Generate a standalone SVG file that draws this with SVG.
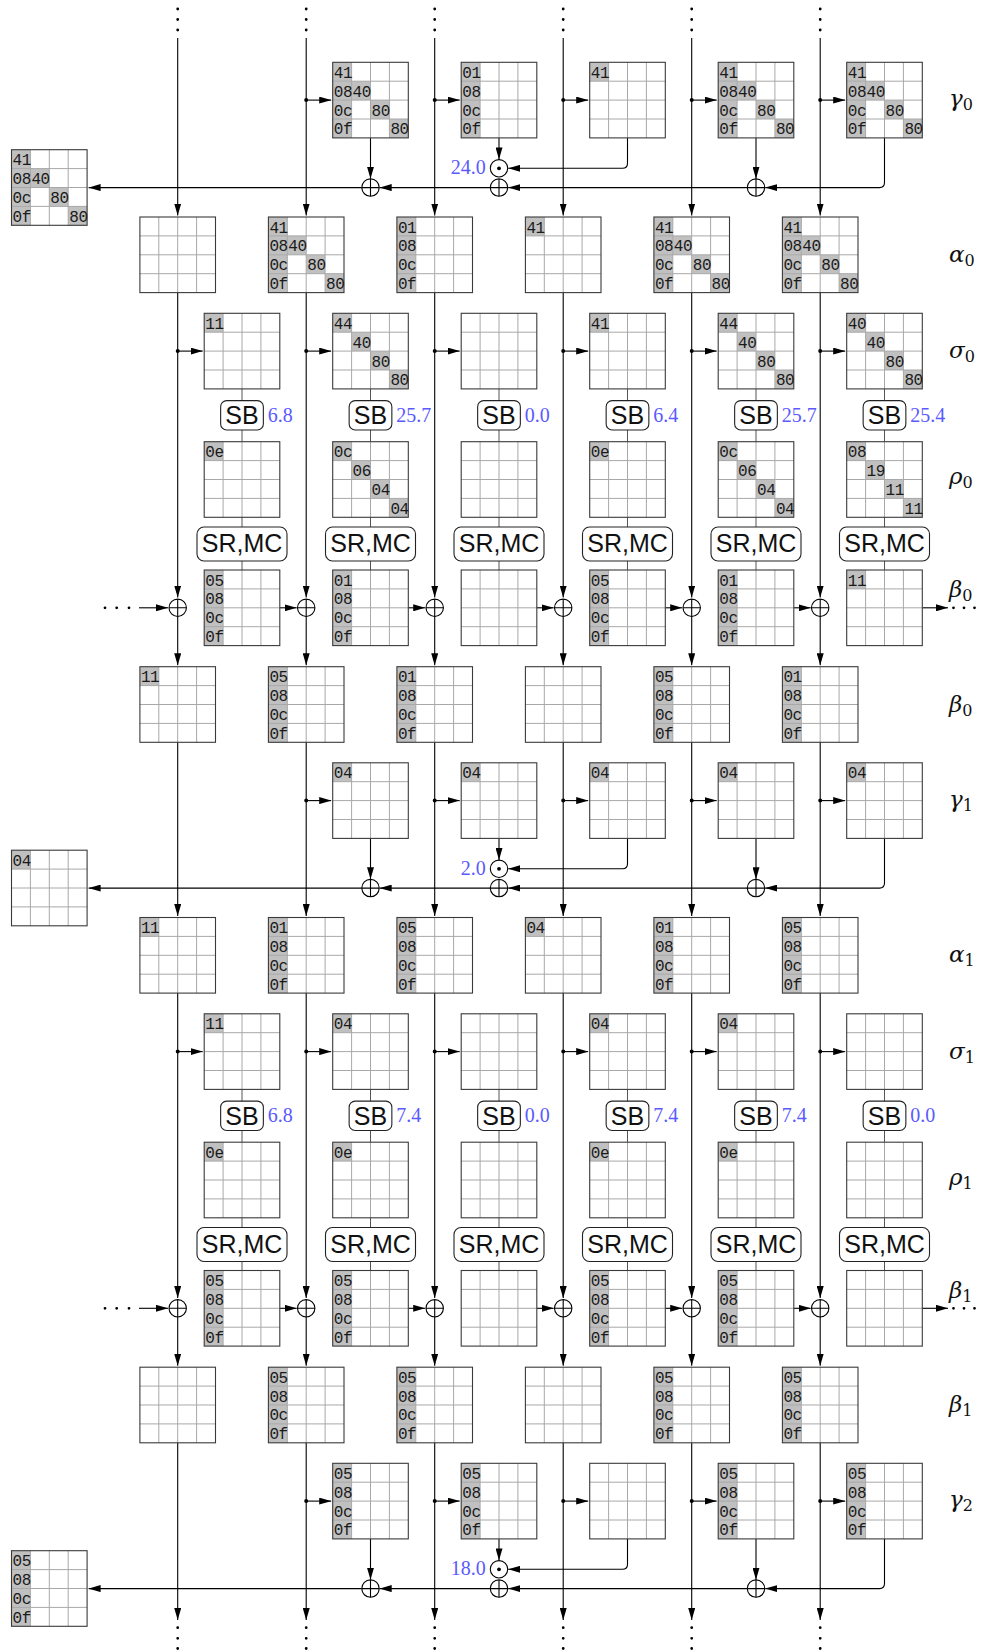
<svg xmlns="http://www.w3.org/2000/svg" width="981" height="1650" viewBox="0 0 981 1650">
<style>
.s{fill:#c0c0c0}
.c{font-family:"Liberation Mono","DejaVu Sans Mono",monospace;font-size:16px;letter-spacing:-0.4px;fill:#1a1a1a}
.ln{fill:none;stroke:#000;stroke-width:1.1}
.a{marker-end:url(#ah)}
.sh{fill:none;stroke:#555;stroke-width:1}
.dt{fill:none;stroke:#000;stroke-linecap:round}
.op{fill:#fff;stroke:#222;stroke-width:1.1}
.opt{font-family:"Liberation Sans",Arial,sans-serif;font-size:25px;text-anchor:middle;fill:#111}
.n{font-family:"Liberation Serif","Times New Roman",serif;font-size:20px;fill:#5a5aff}
.ne{text-anchor:end}
.lab{font-family:"DejaVu Serif","Liberation Serif",serif;font-style:italic;font-size:23px;fill:#111}
.sub{font-style:normal;font-size:16px}
</style>
<defs>
<marker id="ah" viewBox="0 0 12 7" refX="12" refY="3.5" markerWidth="12" markerHeight="7" markerUnits="userSpaceOnUse" orient="auto"><path d="M0,0L12,3.5L0,7Z" fill="#000" stroke="none"/></marker>
<rect id="sc" class="s" width="18.9" height="18.9"/>
<g id="grid"><path d="M18.9,0V75.6M37.8,0V75.6M56.7,0V75.6M0,18.9H75.6M0,37.8H75.6M0,56.7H75.6" fill="none" stroke="#a8a8a8" stroke-width="1"/><rect width="75.6" height="75.6" fill="none" stroke="#3a3a3a" stroke-width="1.1"/></g>
<g id="xor"><circle r="8.7" fill="#fff" stroke="#000" stroke-width="1.1"/><path d="M-8.7,0H8.7M0,-8.7V8.7" stroke="#000" stroke-width="1.1"/></g>
<g id="odot"><circle r="8.7" fill="#fff" stroke="#000" stroke-width="1.1"/><circle r="1.9" fill="#000"/></g>
<rect id="sbb" class="op" x="-21.35" y="-14.65" width="42.7" height="29.3" rx="6"/>
<rect id="srb" class="op" x="-45" y="-17" width="90" height="34" rx="7"/>
</defs>
<rect width="981" height="1650" fill="#fff"/>

<g id="connectors" class="ln">
<g transform="translate(0,62.3)">
<path class="dt" stroke-width="2.8" d="M177.7,-53.3h0M177.7,-42.8h0M177.7,-32.3h0M306.2,-53.3h0M306.2,-42.8h0M306.2,-32.3h0M434.7,-53.3h0M434.7,-42.8h0M434.7,-32.3h0M563.2,-53.3h0M563.2,-42.8h0M563.2,-32.3h0M691.7,-53.3h0M691.7,-42.8h0M691.7,-32.3h0M820.2,-53.3h0M820.2,-42.8h0M820.2,-32.3h0"/>
<path class="a" d="M177.7,-24.3V153.2"/><path class="a" d="M306.2,-24.3V153.2"/><path class="a" d="M434.7,-24.3V153.2"/><path class="a" d="M563.2,-24.3V153.2"/><path class="a" d="M691.7,-24.3V153.2"/><path class="a" d="M820.2,-24.3V153.2"/>
<path class="a" d="M177.7,230.3V535.3"/><path class="a" d="M306.2,230.3V535.3"/><path class="a" d="M434.7,230.3V535.3"/><path class="a" d="M563.2,230.3V535.3"/><path class="a" d="M691.7,230.3V535.3"/><path class="a" d="M820.2,230.3V535.3"/>
<path class="a" d="M177.7,554.2V603"/><path class="a" d="M306.2,554.2V603"/><path class="a" d="M434.7,554.2V603"/><path class="a" d="M563.2,554.2V603"/><path class="a" d="M691.7,554.2V603"/><path class="a" d="M820.2,554.2V603"/>
<path class="a" d="M306.2,37.8H331.2"/><path class="a" d="M434.7,37.8H459.7"/><path class="a" d="M563.2,37.8H588.2"/><path class="a" d="M691.7,37.8H716.7"/><path class="a" d="M820.2,37.8H845.2"/>
<path class="a" d="M177.7,288.8H202.7"/><path class="a" d="M306.2,288.8H331.2"/><path class="a" d="M434.7,288.8H459.7"/><path class="a" d="M563.2,288.8H588.2"/><path class="a" d="M691.7,288.8H716.7"/><path class="a" d="M820.2,288.8H845.2"/>
<path class="dt" stroke-width="4" d="M306.2,37.8h0M434.7,37.8h0M563.2,37.8h0M691.7,37.8h0M820.2,37.8h0M177.7,288.8h0M306.2,288.8h0M434.7,288.8h0M563.2,288.8h0M691.7,288.8h0M820.2,288.8h0"/>
<path class="a" d="M370.5,75.6V116.4"/><path class="a" d="M499,75.6V97.1"/><path class="a" d="M627.5,75.6V101Q627.5,106 622.5,106H508.2"/><path class="a" d="M756,75.6V116.4"/><path class="a" d="M884.5,75.6V120.3Q884.5,125.3 879.5,125.3H765.2"/><path class="a" d="M747.3,125.3H508.2"/><path class="a" d="M490.3,125.3H379.7"/><path class="a" d="M361.8,125.3H88.6"/>
<path class="sh" d="M242,326.6V338.35M242,367.65V379.4M242,455V464.7M242,498.7V507.7M370.5,326.6V338.35M370.5,367.65V379.4M370.5,455V464.7M370.5,498.7V507.7M499,326.6V338.35M499,367.65V379.4M499,455V464.7M499,498.7V507.7M627.5,326.6V338.35M627.5,367.65V379.4M627.5,455V464.7M627.5,498.7V507.7M756,326.6V338.35M756,367.65V379.4M756,455V464.7M756,498.7V507.7M884.5,326.6V338.35M884.5,367.65V379.4M884.5,455V464.7M884.5,498.7V507.7"/>
<path class="a" d="M139,545.5H168"/><path class="a" d="M279.75,545.5H296.7"/><path class="a" d="M408.25,545.5H425.2"/><path class="a" d="M536.75,545.5H553.7"/><path class="a" d="M665.25,545.5H682.2"/><path class="a" d="M793.75,545.5H810.7"/><path class="a" d="M922.25,545.5H948"/>
<path class="dt" stroke-width="2.8" d="M105,545.5h0M116.7,545.5h0M129,545.5h0M953.5,545.5h0M964,545.5h0M974.5,545.5h0"/>
</g>
<g transform="translate(0,762.8)">
<path class="a" d="M177.7,-20.5V153.2"/><path class="a" d="M306.2,-20.5V153.2"/><path class="a" d="M434.7,-20.5V153.2"/><path class="a" d="M563.2,-20.5V153.2"/><path class="a" d="M691.7,-20.5V153.2"/><path class="a" d="M820.2,-20.5V153.2"/>
<path class="a" d="M177.7,230.3V535.3"/><path class="a" d="M306.2,230.3V535.3"/><path class="a" d="M434.7,230.3V535.3"/><path class="a" d="M563.2,230.3V535.3"/><path class="a" d="M691.7,230.3V535.3"/><path class="a" d="M820.2,230.3V535.3"/>
<path class="a" d="M177.7,554.2V603"/><path class="a" d="M306.2,554.2V603"/><path class="a" d="M434.7,554.2V603"/><path class="a" d="M563.2,554.2V603"/><path class="a" d="M691.7,554.2V603"/><path class="a" d="M820.2,554.2V603"/>
<path class="a" d="M306.2,37.8H331.2"/><path class="a" d="M434.7,37.8H459.7"/><path class="a" d="M563.2,37.8H588.2"/><path class="a" d="M691.7,37.8H716.7"/><path class="a" d="M820.2,37.8H845.2"/>
<path class="a" d="M177.7,288.8H202.7"/><path class="a" d="M306.2,288.8H331.2"/><path class="a" d="M434.7,288.8H459.7"/><path class="a" d="M563.2,288.8H588.2"/><path class="a" d="M691.7,288.8H716.7"/><path class="a" d="M820.2,288.8H845.2"/>
<path class="dt" stroke-width="4" d="M306.2,37.8h0M434.7,37.8h0M563.2,37.8h0M691.7,37.8h0M820.2,37.8h0M177.7,288.8h0M306.2,288.8h0M434.7,288.8h0M563.2,288.8h0M691.7,288.8h0M820.2,288.8h0"/>
<path class="a" d="M370.5,75.6V116.4"/><path class="a" d="M499,75.6V97.1"/><path class="a" d="M627.5,75.6V101Q627.5,106 622.5,106H508.2"/><path class="a" d="M756,75.6V116.4"/><path class="a" d="M884.5,75.6V120.3Q884.5,125.3 879.5,125.3H765.2"/><path class="a" d="M747.3,125.3H508.2"/><path class="a" d="M490.3,125.3H379.7"/><path class="a" d="M361.8,125.3H88.6"/>
<path class="sh" d="M242,326.6V338.35M242,367.65V379.4M242,455V464.7M242,498.7V507.7M370.5,326.6V338.35M370.5,367.65V379.4M370.5,455V464.7M370.5,498.7V507.7M499,326.6V338.35M499,367.65V379.4M499,455V464.7M499,498.7V507.7M627.5,326.6V338.35M627.5,367.65V379.4M627.5,455V464.7M627.5,498.7V507.7M756,326.6V338.35M756,367.65V379.4M756,455V464.7M756,498.7V507.7M884.5,326.6V338.35M884.5,367.65V379.4M884.5,455V464.7M884.5,498.7V507.7"/>
<path class="a" d="M139,545.5H168"/><path class="a" d="M279.75,545.5H296.7"/><path class="a" d="M408.25,545.5H425.2"/><path class="a" d="M536.75,545.5H553.7"/><path class="a" d="M665.25,545.5H682.2"/><path class="a" d="M793.75,545.5H810.7"/><path class="a" d="M922.25,545.5H948"/>
<path class="dt" stroke-width="2.8" d="M105,545.5h0M116.7,545.5h0M129,545.5h0M953.5,545.5h0M964,545.5h0M974.5,545.5h0"/>
</g>
<g transform="translate(0,1463.3)">
<path class="a" d="M177.7,-20.5V156.7"/><path class="a" d="M306.2,-20.5V156.7"/><path class="a" d="M434.7,-20.5V156.7"/><path class="a" d="M563.2,-20.5V156.7"/><path class="a" d="M691.7,-20.5V156.7"/><path class="a" d="M820.2,-20.5V156.7"/>
<path class="a" d="M306.2,37.8H331.2"/><path class="a" d="M434.7,37.8H459.7"/><path class="a" d="M563.2,37.8H588.2"/><path class="a" d="M691.7,37.8H716.7"/><path class="a" d="M820.2,37.8H845.2"/>
<path class="dt" stroke-width="4" d="M306.2,37.8h0M434.7,37.8h0M563.2,37.8h0M691.7,37.8h0M820.2,37.8h0"/>
<path class="a" d="M370.5,75.6V116.4"/><path class="a" d="M499,75.6V97.1"/><path class="a" d="M627.5,75.6V101Q627.5,106 622.5,106H508.2"/><path class="a" d="M756,75.6V116.4"/><path class="a" d="M884.5,75.6V120.3Q884.5,125.3 879.5,125.3H765.2"/><path class="a" d="M747.3,125.3H508.2"/><path class="a" d="M490.3,125.3H379.7"/><path class="a" d="M361.8,125.3H88.6"/>
<path class="dt" stroke-width="2.8" d="M177.7,164.4h0M177.7,175h0M177.7,185.2h0M306.2,164.4h0M306.2,175h0M306.2,185.2h0M434.7,164.4h0M434.7,175h0M434.7,185.2h0M563.2,164.4h0M563.2,175h0M563.2,185.2h0M691.7,164.4h0M691.7,175h0M691.7,185.2h0M820.2,164.4h0M820.2,175h0M820.2,185.2h0"/>
</g>
</g>

<!-- ===== period 0 ===== -->
<g id="gamma0_1" transform="translate(332.7,62.3)"><use href="#sc"/><use href="#sc" y="18.9"/><use href="#sc" x="18.9" y="18.9"/><use href="#sc" y="37.8"/><use href="#sc" x="37.8" y="37.8"/><use href="#sc" y="56.7"/><use href="#sc" x="56.7" y="56.7"/><use href="#grid"/><text class="c" x="1" y="15.5">41</text><text class="c" x="1" y="34.4">08</text><text class="c" x="19.9" y="34.4">40</text><text class="c" x="1" y="53.3">0c</text><text class="c" x="38.8" y="53.3">80</text><text class="c" x="1" y="72.2">0f</text><text class="c" x="57.7" y="72.2">80</text></g>
<g id="gamma0_2" transform="translate(461.2,62.3)"><rect class="s" width="18.9" height="75.6"/><use href="#grid"/><text class="c" x="1" y="15.5">01</text><text class="c" x="1" y="34.4">08</text><text class="c" x="1" y="53.3">0c</text><text class="c" x="1" y="72.2">0f</text></g>
<g id="gamma0_3" transform="translate(589.7,62.3)"><use href="#sc"/><use href="#grid"/><text class="c" x="1" y="15.5">41</text></g>
<g id="gamma0_4" transform="translate(718.2,62.3)"><use href="#sc"/><use href="#sc" y="18.9"/><use href="#sc" x="18.9" y="18.9"/><use href="#sc" y="37.8"/><use href="#sc" x="37.8" y="37.8"/><use href="#sc" y="56.7"/><use href="#sc" x="56.7" y="56.7"/><use href="#grid"/><text class="c" x="1" y="15.5">41</text><text class="c" x="1" y="34.4">08</text><text class="c" x="19.9" y="34.4">40</text><text class="c" x="1" y="53.3">0c</text><text class="c" x="38.8" y="53.3">80</text><text class="c" x="1" y="72.2">0f</text><text class="c" x="57.7" y="72.2">80</text></g>
<g id="gamma0_5" transform="translate(846.7,62.3)"><use href="#sc"/><use href="#sc" y="18.9"/><use href="#sc" x="18.9" y="18.9"/><use href="#sc" y="37.8"/><use href="#sc" x="37.8" y="37.8"/><use href="#sc" y="56.7"/><use href="#sc" x="56.7" y="56.7"/><use href="#grid"/><text class="c" x="1" y="15.5">41</text><text class="c" x="1" y="34.4">08</text><text class="c" x="19.9" y="34.4">40</text><text class="c" x="1" y="53.3">0c</text><text class="c" x="38.8" y="53.3">80</text><text class="c" x="1" y="72.2">0f</text><text class="c" x="57.7" y="72.2">80</text></g>
<g id="out0" transform="translate(11.5,149.7)"><use href="#sc"/><use href="#sc" y="18.9"/><use href="#sc" x="18.9" y="18.9"/><use href="#sc" y="37.8"/><use href="#sc" x="37.8" y="37.8"/><use href="#sc" y="56.7"/><use href="#sc" x="56.7" y="56.7"/><use href="#grid"/><text class="c" x="1" y="15.5">41</text><text class="c" x="1" y="34.4">08</text><text class="c" x="19.9" y="34.4">40</text><text class="c" x="1" y="53.3">0c</text><text class="c" x="38.8" y="53.3">80</text><text class="c" x="1" y="72.2">0f</text><text class="c" x="57.7" y="72.2">80</text></g>
<g id="xg0_1"><use href="#xor" x="370.5" y="187.6"/></g>
<g id="xg0_2"><use href="#xor" x="499" y="187.6"/></g>
<g id="xg0_4"><use href="#xor" x="756" y="187.6"/></g>
<g id="od0"><use href="#odot" x="499" y="168.3"/><text class="n ne" x="485.7" y="174">24.0</text></g>

<g id="alpha0_0" transform="translate(139.9,217)"><use href="#grid"/></g>
<g id="alpha0_1" transform="translate(268.4,217)"><use href="#sc"/><use href="#sc" y="18.9"/><use href="#sc" x="18.9" y="18.9"/><use href="#sc" y="37.8"/><use href="#sc" x="37.8" y="37.8"/><use href="#sc" y="56.7"/><use href="#sc" x="56.7" y="56.7"/><use href="#grid"/><text class="c" x="1" y="15.5">41</text><text class="c" x="1" y="34.4">08</text><text class="c" x="19.9" y="34.4">40</text><text class="c" x="1" y="53.3">0c</text><text class="c" x="38.8" y="53.3">80</text><text class="c" x="1" y="72.2">0f</text><text class="c" x="57.7" y="72.2">80</text></g>
<g id="alpha0_2" transform="translate(396.9,217)"><rect class="s" width="18.9" height="75.6"/><use href="#grid"/><text class="c" x="1" y="15.5">01</text><text class="c" x="1" y="34.4">08</text><text class="c" x="1" y="53.3">0c</text><text class="c" x="1" y="72.2">0f</text></g>
<g id="alpha0_3" transform="translate(525.4,217)"><use href="#sc"/><use href="#grid"/><text class="c" x="1" y="15.5">41</text></g>
<g id="alpha0_4" transform="translate(653.9,217)"><use href="#sc"/><use href="#sc" y="18.9"/><use href="#sc" x="18.9" y="18.9"/><use href="#sc" y="37.8"/><use href="#sc" x="37.8" y="37.8"/><use href="#sc" y="56.7"/><use href="#sc" x="56.7" y="56.7"/><use href="#grid"/><text class="c" x="1" y="15.5">41</text><text class="c" x="1" y="34.4">08</text><text class="c" x="19.9" y="34.4">40</text><text class="c" x="1" y="53.3">0c</text><text class="c" x="38.8" y="53.3">80</text><text class="c" x="1" y="72.2">0f</text><text class="c" x="57.7" y="72.2">80</text></g>
<g id="alpha0_5" transform="translate(782.4,217)"><use href="#sc"/><use href="#sc" y="18.9"/><use href="#sc" x="18.9" y="18.9"/><use href="#sc" y="37.8"/><use href="#sc" x="37.8" y="37.8"/><use href="#sc" y="56.7"/><use href="#sc" x="56.7" y="56.7"/><use href="#grid"/><text class="c" x="1" y="15.5">41</text><text class="c" x="1" y="34.4">08</text><text class="c" x="19.9" y="34.4">40</text><text class="c" x="1" y="53.3">0c</text><text class="c" x="38.8" y="53.3">80</text><text class="c" x="1" y="72.2">0f</text><text class="c" x="57.7" y="72.2">80</text></g>

<g id="sigma0_0" transform="translate(204.2,313.3)"><use href="#sc"/><use href="#grid"/><text class="c" x="1" y="15.5">11</text></g>
<g id="sigma0_1" transform="translate(332.7,313.3)"><use href="#sc"/><use href="#sc" x="18.9" y="18.9"/><use href="#sc" x="37.8" y="37.8"/><use href="#sc" x="56.7" y="56.7"/><use href="#grid"/><text class="c" x="1" y="15.5">44</text><text class="c" x="19.9" y="34.4">40</text><text class="c" x="38.8" y="53.3">80</text><text class="c" x="57.7" y="72.2">80</text></g>
<g id="sigma0_2" transform="translate(461.2,313.3)"><use href="#grid"/></g>
<g id="sigma0_3" transform="translate(589.7,313.3)"><use href="#sc"/><use href="#grid"/><text class="c" x="1" y="15.5">41</text></g>
<g id="sigma0_4" transform="translate(718.2,313.3)"><use href="#sc"/><use href="#sc" x="18.9" y="18.9"/><use href="#sc" x="37.8" y="37.8"/><use href="#sc" x="56.7" y="56.7"/><use href="#grid"/><text class="c" x="1" y="15.5">44</text><text class="c" x="19.9" y="34.4">40</text><text class="c" x="38.8" y="53.3">80</text><text class="c" x="57.7" y="72.2">80</text></g>
<g id="sigma0_5" transform="translate(846.7,313.3)"><use href="#sc"/><use href="#sc" x="18.9" y="18.9"/><use href="#sc" x="37.8" y="37.8"/><use href="#sc" x="56.7" y="56.7"/><use href="#grid"/><text class="c" x="1" y="15.5">40</text><text class="c" x="19.9" y="34.4">40</text><text class="c" x="38.8" y="53.3">80</text><text class="c" x="57.7" y="72.2">80</text></g>

<g id="sb0_0"><use href="#sbb" x="242" y="415.3"/><text class="opt" x="242" y="424.3">SB</text><text class="n" x="267.8" y="421.7">6.8</text></g>
<g id="sb0_1"><use href="#sbb" x="370.5" y="415.3"/><text class="opt" x="370.5" y="424.3">SB</text><text class="n" x="396.3" y="421.7">25.7</text></g>
<g id="sb0_2"><use href="#sbb" x="499" y="415.3"/><text class="opt" x="499" y="424.3">SB</text><text class="n" x="524.8" y="421.7">0.0</text></g>
<g id="sb0_3"><use href="#sbb" x="627.5" y="415.3"/><text class="opt" x="627.5" y="424.3">SB</text><text class="n" x="653.3" y="421.7">6.4</text></g>
<g id="sb0_4"><use href="#sbb" x="756" y="415.3"/><text class="opt" x="756" y="424.3">SB</text><text class="n" x="781.8" y="421.7">25.7</text></g>
<g id="sb0_5"><use href="#sbb" x="884.5" y="415.3"/><text class="opt" x="884.5" y="424.3">SB</text><text class="n" x="910.3" y="421.7">25.4</text></g>

<g id="rho0_0" transform="translate(204.2,441.7)"><use href="#sc"/><use href="#grid"/><text class="c" x="1" y="15.5">0e</text></g>
<g id="rho0_1" transform="translate(332.7,441.7)"><use href="#sc"/><use href="#sc" x="18.9" y="18.9"/><use href="#sc" x="37.8" y="37.8"/><use href="#sc" x="56.7" y="56.7"/><use href="#grid"/><text class="c" x="1" y="15.5">0c</text><text class="c" x="19.9" y="34.4">06</text><text class="c" x="38.8" y="53.3">04</text><text class="c" x="57.7" y="72.2">04</text></g>
<g id="rho0_2" transform="translate(461.2,441.7)"><use href="#grid"/></g>
<g id="rho0_3" transform="translate(589.7,441.7)"><use href="#sc"/><use href="#grid"/><text class="c" x="1" y="15.5">0e</text></g>
<g id="rho0_4" transform="translate(718.2,441.7)"><use href="#sc"/><use href="#sc" x="18.9" y="18.9"/><use href="#sc" x="37.8" y="37.8"/><use href="#sc" x="56.7" y="56.7"/><use href="#grid"/><text class="c" x="1" y="15.5">0c</text><text class="c" x="19.9" y="34.4">06</text><text class="c" x="38.8" y="53.3">04</text><text class="c" x="57.7" y="72.2">04</text></g>
<g id="rho0_5" transform="translate(846.7,441.7)"><use href="#sc"/><use href="#sc" x="18.9" y="18.9"/><use href="#sc" x="37.8" y="37.8"/><use href="#sc" x="56.7" y="56.7"/><use href="#grid"/><text class="c" x="1" y="15.5">08</text><text class="c" x="19.9" y="34.4">19</text><text class="c" x="38.8" y="53.3">11</text><text class="c" x="57.7" y="72.2">11</text></g>

<g id="sr0_0"><use href="#srb" x="242" y="544"/><text class="opt" x="242" y="552">SR,MC</text></g>
<g id="sr0_1"><use href="#srb" x="370.5" y="544"/><text class="opt" x="370.5" y="552">SR,MC</text></g>
<g id="sr0_2"><use href="#srb" x="499" y="544"/><text class="opt" x="499" y="552">SR,MC</text></g>
<g id="sr0_3"><use href="#srb" x="627.5" y="544"/><text class="opt" x="627.5" y="552">SR,MC</text></g>
<g id="sr0_4"><use href="#srb" x="756" y="544"/><text class="opt" x="756" y="552">SR,MC</text></g>
<g id="sr0_5"><use href="#srb" x="884.5" y="544"/><text class="opt" x="884.5" y="552">SR,MC</text></g>

<g id="beta0_0" transform="translate(204.2,570)"><rect class="s" width="18.9" height="75.6"/><use href="#grid"/><text class="c" x="1" y="15.5">05</text><text class="c" x="1" y="34.4">08</text><text class="c" x="1" y="53.3">0c</text><text class="c" x="1" y="72.2">0f</text></g>
<g id="beta0_1" transform="translate(332.7,570)"><rect class="s" width="18.9" height="75.6"/><use href="#grid"/><text class="c" x="1" y="15.5">01</text><text class="c" x="1" y="34.4">08</text><text class="c" x="1" y="53.3">0c</text><text class="c" x="1" y="72.2">0f</text></g>
<g id="beta0_2" transform="translate(461.2,570)"><use href="#grid"/></g>
<g id="beta0_3" transform="translate(589.7,570)"><rect class="s" width="18.9" height="75.6"/><use href="#grid"/><text class="c" x="1" y="15.5">05</text><text class="c" x="1" y="34.4">08</text><text class="c" x="1" y="53.3">0c</text><text class="c" x="1" y="72.2">0f</text></g>
<g id="beta0_4" transform="translate(718.2,570)"><rect class="s" width="18.9" height="75.6"/><use href="#grid"/><text class="c" x="1" y="15.5">01</text><text class="c" x="1" y="34.4">08</text><text class="c" x="1" y="53.3">0c</text><text class="c" x="1" y="72.2">0f</text></g>
<g id="beta0_5" transform="translate(846.7,570)"><use href="#sc"/><use href="#grid"/><text class="c" x="1" y="15.5">11</text></g>
<g id="xb0_0"><use href="#xor" x="177.7" y="607.8"/></g>
<g id="xb0_1"><use href="#xor" x="306.2" y="607.8"/></g>
<g id="xb0_2"><use href="#xor" x="434.7" y="607.8"/></g>
<g id="xb0_3"><use href="#xor" x="563.2" y="607.8"/></g>
<g id="xb0_4"><use href="#xor" x="691.7" y="607.8"/></g>
<g id="xb0_5"><use href="#xor" x="820.2" y="607.8"/></g>

<g id="betab0_0" transform="translate(139.9,666.7)"><use href="#sc"/><use href="#grid"/><text class="c" x="1" y="15.5">11</text></g>
<g id="betab0_1" transform="translate(268.4,666.7)"><rect class="s" width="18.9" height="75.6"/><use href="#grid"/><text class="c" x="1" y="15.5">05</text><text class="c" x="1" y="34.4">08</text><text class="c" x="1" y="53.3">0c</text><text class="c" x="1" y="72.2">0f</text></g>
<g id="betab0_2" transform="translate(396.9,666.7)"><rect class="s" width="18.9" height="75.6"/><use href="#grid"/><text class="c" x="1" y="15.5">01</text><text class="c" x="1" y="34.4">08</text><text class="c" x="1" y="53.3">0c</text><text class="c" x="1" y="72.2">0f</text></g>
<g id="betab0_3" transform="translate(525.4,666.7)"><use href="#grid"/></g>
<g id="betab0_4" transform="translate(653.9,666.7)"><rect class="s" width="18.9" height="75.6"/><use href="#grid"/><text class="c" x="1" y="15.5">05</text><text class="c" x="1" y="34.4">08</text><text class="c" x="1" y="53.3">0c</text><text class="c" x="1" y="72.2">0f</text></g>
<g id="betab0_5" transform="translate(782.4,666.7)"><rect class="s" width="18.9" height="75.6"/><use href="#grid"/><text class="c" x="1" y="15.5">01</text><text class="c" x="1" y="34.4">08</text><text class="c" x="1" y="53.3">0c</text><text class="c" x="1" y="72.2">0f</text></g>

<!-- ===== period 1 ===== -->
<g id="gamma1_1" transform="translate(332.7,762.8)"><use href="#sc"/><use href="#grid"/><text class="c" x="1" y="15.5">04</text></g>
<g id="gamma1_2" transform="translate(461.2,762.8)"><use href="#sc"/><use href="#grid"/><text class="c" x="1" y="15.5">04</text></g>
<g id="gamma1_3" transform="translate(589.7,762.8)"><use href="#sc"/><use href="#grid"/><text class="c" x="1" y="15.5">04</text></g>
<g id="gamma1_4" transform="translate(718.2,762.8)"><use href="#sc"/><use href="#grid"/><text class="c" x="1" y="15.5">04</text></g>
<g id="gamma1_5" transform="translate(846.7,762.8)"><use href="#sc"/><use href="#grid"/><text class="c" x="1" y="15.5">04</text></g>
<g id="out1" transform="translate(11.5,850.2)"><use href="#sc"/><use href="#grid"/><text class="c" x="1" y="15.5">04</text></g>
<g id="xg1_1"><use href="#xor" x="370.5" y="888.1"/></g>
<g id="xg1_2"><use href="#xor" x="499" y="888.1"/></g>
<g id="xg1_4"><use href="#xor" x="756" y="888.1"/></g>
<g id="od1"><use href="#odot" x="499" y="868.8"/><text class="n ne" x="485.7" y="874.5">2.0</text></g>

<g id="alpha1_0" transform="translate(139.9,917.5)"><use href="#sc"/><use href="#grid"/><text class="c" x="1" y="15.5">11</text></g>
<g id="alpha1_1" transform="translate(268.4,917.5)"><rect class="s" width="18.9" height="75.6"/><use href="#grid"/><text class="c" x="1" y="15.5">01</text><text class="c" x="1" y="34.4">08</text><text class="c" x="1" y="53.3">0c</text><text class="c" x="1" y="72.2">0f</text></g>
<g id="alpha1_2" transform="translate(396.9,917.5)"><rect class="s" width="18.9" height="75.6"/><use href="#grid"/><text class="c" x="1" y="15.5">05</text><text class="c" x="1" y="34.4">08</text><text class="c" x="1" y="53.3">0c</text><text class="c" x="1" y="72.2">0f</text></g>
<g id="alpha1_3" transform="translate(525.4,917.5)"><use href="#sc"/><use href="#grid"/><text class="c" x="1" y="15.5">04</text></g>
<g id="alpha1_4" transform="translate(653.9,917.5)"><rect class="s" width="18.9" height="75.6"/><use href="#grid"/><text class="c" x="1" y="15.5">01</text><text class="c" x="1" y="34.4">08</text><text class="c" x="1" y="53.3">0c</text><text class="c" x="1" y="72.2">0f</text></g>
<g id="alpha1_5" transform="translate(782.4,917.5)"><rect class="s" width="18.9" height="75.6"/><use href="#grid"/><text class="c" x="1" y="15.5">05</text><text class="c" x="1" y="34.4">08</text><text class="c" x="1" y="53.3">0c</text><text class="c" x="1" y="72.2">0f</text></g>

<g id="sigma1_0" transform="translate(204.2,1013.8)"><use href="#sc"/><use href="#grid"/><text class="c" x="1" y="15.5">11</text></g>
<g id="sigma1_1" transform="translate(332.7,1013.8)"><use href="#sc"/><use href="#grid"/><text class="c" x="1" y="15.5">04</text></g>
<g id="sigma1_2" transform="translate(461.2,1013.8)"><use href="#grid"/></g>
<g id="sigma1_3" transform="translate(589.7,1013.8)"><use href="#sc"/><use href="#grid"/><text class="c" x="1" y="15.5">04</text></g>
<g id="sigma1_4" transform="translate(718.2,1013.8)"><use href="#sc"/><use href="#grid"/><text class="c" x="1" y="15.5">04</text></g>
<g id="sigma1_5" transform="translate(846.7,1013.8)"><use href="#grid"/></g>

<g id="sb1_0"><use href="#sbb" x="242" y="1115.8"/><text class="opt" x="242" y="1124.8">SB</text><text class="n" x="267.8" y="1122.2">6.8</text></g>
<g id="sb1_1"><use href="#sbb" x="370.5" y="1115.8"/><text class="opt" x="370.5" y="1124.8">SB</text><text class="n" x="396.3" y="1122.2">7.4</text></g>
<g id="sb1_2"><use href="#sbb" x="499" y="1115.8"/><text class="opt" x="499" y="1124.8">SB</text><text class="n" x="524.8" y="1122.2">0.0</text></g>
<g id="sb1_3"><use href="#sbb" x="627.5" y="1115.8"/><text class="opt" x="627.5" y="1124.8">SB</text><text class="n" x="653.3" y="1122.2">7.4</text></g>
<g id="sb1_4"><use href="#sbb" x="756" y="1115.8"/><text class="opt" x="756" y="1124.8">SB</text><text class="n" x="781.8" y="1122.2">7.4</text></g>
<g id="sb1_5"><use href="#sbb" x="884.5" y="1115.8"/><text class="opt" x="884.5" y="1124.8">SB</text><text class="n" x="910.3" y="1122.2">0.0</text></g>

<g id="rho1_0" transform="translate(204.2,1142.2)"><use href="#sc"/><use href="#grid"/><text class="c" x="1" y="15.5">0e</text></g>
<g id="rho1_1" transform="translate(332.7,1142.2)"><use href="#sc"/><use href="#grid"/><text class="c" x="1" y="15.5">0e</text></g>
<g id="rho1_2" transform="translate(461.2,1142.2)"><use href="#grid"/></g>
<g id="rho1_3" transform="translate(589.7,1142.2)"><use href="#sc"/><use href="#grid"/><text class="c" x="1" y="15.5">0e</text></g>
<g id="rho1_4" transform="translate(718.2,1142.2)"><use href="#sc"/><use href="#grid"/><text class="c" x="1" y="15.5">0e</text></g>
<g id="rho1_5" transform="translate(846.7,1142.2)"><use href="#grid"/></g>

<g id="sr1_0"><use href="#srb" x="242" y="1244.5"/><text class="opt" x="242" y="1252.5">SR,MC</text></g>
<g id="sr1_1"><use href="#srb" x="370.5" y="1244.5"/><text class="opt" x="370.5" y="1252.5">SR,MC</text></g>
<g id="sr1_2"><use href="#srb" x="499" y="1244.5"/><text class="opt" x="499" y="1252.5">SR,MC</text></g>
<g id="sr1_3"><use href="#srb" x="627.5" y="1244.5"/><text class="opt" x="627.5" y="1252.5">SR,MC</text></g>
<g id="sr1_4"><use href="#srb" x="756" y="1244.5"/><text class="opt" x="756" y="1252.5">SR,MC</text></g>
<g id="sr1_5"><use href="#srb" x="884.5" y="1244.5"/><text class="opt" x="884.5" y="1252.5">SR,MC</text></g>

<g id="beta1_0" transform="translate(204.2,1270.5)"><rect class="s" width="18.9" height="75.6"/><use href="#grid"/><text class="c" x="1" y="15.5">05</text><text class="c" x="1" y="34.4">08</text><text class="c" x="1" y="53.3">0c</text><text class="c" x="1" y="72.2">0f</text></g>
<g id="beta1_1" transform="translate(332.7,1270.5)"><rect class="s" width="18.9" height="75.6"/><use href="#grid"/><text class="c" x="1" y="15.5">05</text><text class="c" x="1" y="34.4">08</text><text class="c" x="1" y="53.3">0c</text><text class="c" x="1" y="72.2">0f</text></g>
<g id="beta1_2" transform="translate(461.2,1270.5)"><use href="#grid"/></g>
<g id="beta1_3" transform="translate(589.7,1270.5)"><rect class="s" width="18.9" height="75.6"/><use href="#grid"/><text class="c" x="1" y="15.5">05</text><text class="c" x="1" y="34.4">08</text><text class="c" x="1" y="53.3">0c</text><text class="c" x="1" y="72.2">0f</text></g>
<g id="beta1_4" transform="translate(718.2,1270.5)"><rect class="s" width="18.9" height="75.6"/><use href="#grid"/><text class="c" x="1" y="15.5">05</text><text class="c" x="1" y="34.4">08</text><text class="c" x="1" y="53.3">0c</text><text class="c" x="1" y="72.2">0f</text></g>
<g id="beta1_5" transform="translate(846.7,1270.5)"><use href="#grid"/></g>
<g id="xb1_0"><use href="#xor" x="177.7" y="1308.3"/></g>
<g id="xb1_1"><use href="#xor" x="306.2" y="1308.3"/></g>
<g id="xb1_2"><use href="#xor" x="434.7" y="1308.3"/></g>
<g id="xb1_3"><use href="#xor" x="563.2" y="1308.3"/></g>
<g id="xb1_4"><use href="#xor" x="691.7" y="1308.3"/></g>
<g id="xb1_5"><use href="#xor" x="820.2" y="1308.3"/></g>

<g id="betab1_0" transform="translate(139.9,1367.2)"><use href="#grid"/></g>
<g id="betab1_1" transform="translate(268.4,1367.2)"><rect class="s" width="18.9" height="75.6"/><use href="#grid"/><text class="c" x="1" y="15.5">05</text><text class="c" x="1" y="34.4">08</text><text class="c" x="1" y="53.3">0c</text><text class="c" x="1" y="72.2">0f</text></g>
<g id="betab1_2" transform="translate(396.9,1367.2)"><rect class="s" width="18.9" height="75.6"/><use href="#grid"/><text class="c" x="1" y="15.5">05</text><text class="c" x="1" y="34.4">08</text><text class="c" x="1" y="53.3">0c</text><text class="c" x="1" y="72.2">0f</text></g>
<g id="betab1_3" transform="translate(525.4,1367.2)"><use href="#grid"/></g>
<g id="betab1_4" transform="translate(653.9,1367.2)"><rect class="s" width="18.9" height="75.6"/><use href="#grid"/><text class="c" x="1" y="15.5">05</text><text class="c" x="1" y="34.4">08</text><text class="c" x="1" y="53.3">0c</text><text class="c" x="1" y="72.2">0f</text></g>
<g id="betab1_5" transform="translate(782.4,1367.2)"><rect class="s" width="18.9" height="75.6"/><use href="#grid"/><text class="c" x="1" y="15.5">05</text><text class="c" x="1" y="34.4">08</text><text class="c" x="1" y="53.3">0c</text><text class="c" x="1" y="72.2">0f</text></g>

<!-- ===== period 2 ===== -->
<g id="gamma2_1" transform="translate(332.7,1463.3)"><rect class="s" width="18.9" height="75.6"/><use href="#grid"/><text class="c" x="1" y="15.5">05</text><text class="c" x="1" y="34.4">08</text><text class="c" x="1" y="53.3">0c</text><text class="c" x="1" y="72.2">0f</text></g>
<g id="gamma2_2" transform="translate(461.2,1463.3)"><rect class="s" width="18.9" height="75.6"/><use href="#grid"/><text class="c" x="1" y="15.5">05</text><text class="c" x="1" y="34.4">08</text><text class="c" x="1" y="53.3">0c</text><text class="c" x="1" y="72.2">0f</text></g>
<g id="gamma2_3" transform="translate(589.7,1463.3)"><use href="#grid"/></g>
<g id="gamma2_4" transform="translate(718.2,1463.3)"><rect class="s" width="18.9" height="75.6"/><use href="#grid"/><text class="c" x="1" y="15.5">05</text><text class="c" x="1" y="34.4">08</text><text class="c" x="1" y="53.3">0c</text><text class="c" x="1" y="72.2">0f</text></g>
<g id="gamma2_5" transform="translate(846.7,1463.3)"><rect class="s" width="18.9" height="75.6"/><use href="#grid"/><text class="c" x="1" y="15.5">05</text><text class="c" x="1" y="34.4">08</text><text class="c" x="1" y="53.3">0c</text><text class="c" x="1" y="72.2">0f</text></g>
<g id="out2" transform="translate(11.5,1550.7)"><rect class="s" width="18.9" height="75.6"/><use href="#grid"/><text class="c" x="1" y="15.5">05</text><text class="c" x="1" y="34.4">08</text><text class="c" x="1" y="53.3">0c</text><text class="c" x="1" y="72.2">0f</text></g>
<g id="xg2_1"><use href="#xor" x="370.5" y="1588.6"/></g>
<g id="xg2_2"><use href="#xor" x="499" y="1588.6"/></g>
<g id="xg2_4"><use href="#xor" x="756" y="1588.6"/></g>
<g id="od2"><use href="#odot" x="499" y="1569.3"/><text class="n ne" x="485.7" y="1575">18.0</text></g>

<!-- ===== row labels ===== -->
<g id="labels">
<text class="lab" x="949" y="106.3">γ<tspan class="sub" dy="4">0</tspan></text>
<text class="lab" x="949" y="261.8">α<tspan class="sub" dy="4">0</tspan></text>
<text class="lab" x="949" y="358.1">σ<tspan class="sub" dy="4">0</tspan></text>
<text class="lab" x="949" y="484">ρ<tspan class="sub" dy="4">0</tspan></text>
<text class="lab" x="949" y="597">β<tspan class="sub" dy="4">0</tspan></text>
<text class="lab" x="949" y="711.5">β<tspan class="sub" dy="4">0</tspan></text>
<text class="lab" x="949" y="806.8">γ<tspan class="sub" dy="4">1</tspan></text>
<text class="lab" x="949" y="962.3">α<tspan class="sub" dy="4">1</tspan></text>
<text class="lab" x="949" y="1058.6">σ<tspan class="sub" dy="4">1</tspan></text>
<text class="lab" x="949" y="1184.5">ρ<tspan class="sub" dy="4">1</tspan></text>
<text class="lab" x="949" y="1297.5">β<tspan class="sub" dy="4">1</tspan></text>
<text class="lab" x="949" y="1412">β<tspan class="sub" dy="4">1</tspan></text>
<text class="lab" x="949" y="1507.3">γ<tspan class="sub" dy="4">2</tspan></text>
</g>
</svg>
